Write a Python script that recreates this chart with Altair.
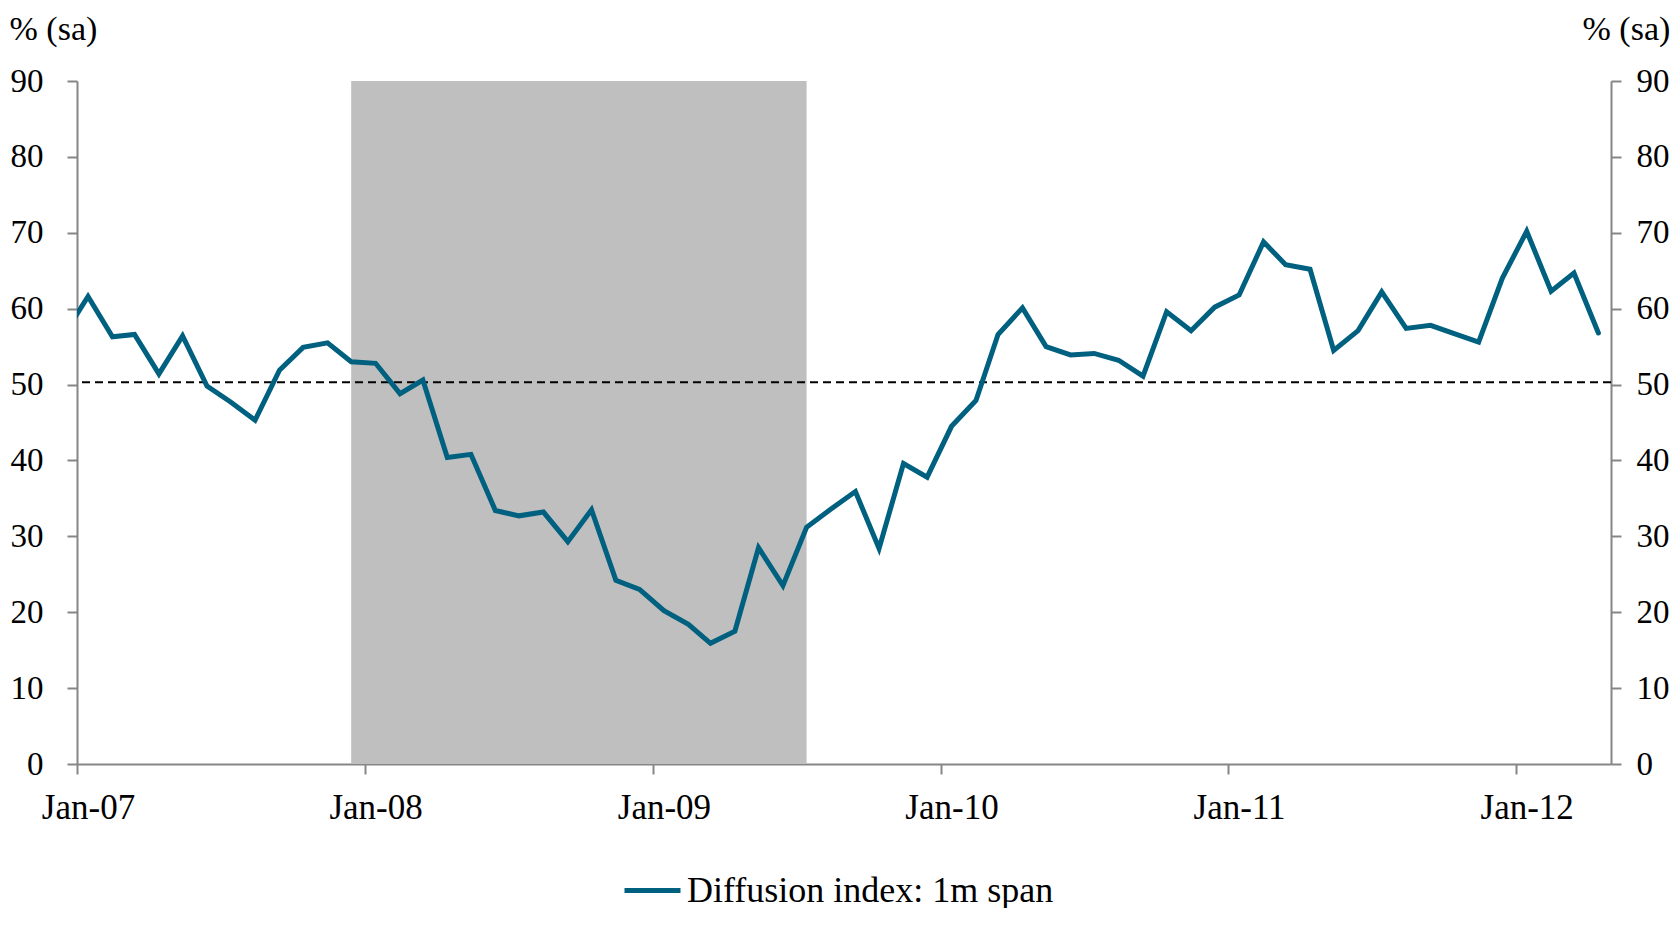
import altair as alt
import pandas as pd

# ---- data ----
values = [
    56.5, 61.6, 56.3, 56.6, 51.4, 56.4, 49.8, 47.7, 45.3, 51.9, 54.9, 55.5,
    53.0, 52.8, 48.8, 50.6, 40.4, 40.8, 33.4, 32.7, 33.2, 29.3, 33.5, 24.2,
    23.0, 20.2, 18.4, 15.9, 17.5, 28.5, 23.5, 31.2, 33.6, 35.9, 28.4, 39.6,
    37.8, 44.5, 47.9, 56.6, 60.1, 55.0, 53.9, 54.1, 53.2, 51.1, 59.6, 57.1,
    60.2, 61.8, 68.8, 65.8, 65.2, 54.5, 57.1, 62.2, 57.4, 57.8, 56.7, 55.6,
    64.0, 70.2, 62.3, 64.7, 56.8,
]
series_name = "Diffusion index: 1m span"
shade_start = ["2007-12-15T00:00"]
shade_end = ["2009-07-15T00:00"]
shade_low = [0]
shade_high = [90]
threshold = [50.3]
year_ticks = [2007, 2008, 2009, 2010, 2011, 2012]
y_ticks = [0, 10, 20, 30, 40, 50, 60, 70, 80, 90]

months = pd.date_range("2006-12-01", periods=len(values), freq="MS") + pd.Timedelta(days=14)
df = pd.DataFrame({
    "date": [d.strftime("%Y-%m-%dT%H:%M") for d in months],
    "value": values,
    "series": [series_name] * len(values),
})
shade_df = pd.DataFrame({"start": shade_start, "end": shade_end, "lo": shade_low, "hi": shade_high})
thr_df = pd.DataFrame({"y": threshold})

FONT = "Liberation Serif"
GRAY = "#868686"
BLUE = "#00607F"

x_domain = [alt.DateTime(year=2007, month=1, date=1), alt.DateTime(year=2012, month=5, date=1)]
x_axis = alt.Axis(
    values=[alt.DateTime(year=y, month=1, date=1) for y in year_ticks],
    format="%b-%y", title=None, labelBaseline="alphabetic", labelPadding=44,
    labelFlush=False, labelOffset=11, labelFontSize=35,
    tickSize=10, grid=False,
)
x_scale = alt.Scale(domain=x_domain)


def yscale():
    return alt.Scale(domain=[0, 90], nice=False, zero=False)


shade = alt.Chart(shade_df).mark_rect(color="#bfbfbf").encode(
    x=alt.X("start:T", scale=x_scale, axis=x_axis),
    x2="end:T",
    y=alt.Y("lo:Q", scale=yscale(), axis=alt.Axis(
        orient="left", values=y_ticks, title="% (sa)", titleAngle=0,
        titleX=-68, titleY=-42, titleAlign="left", titleBaseline="alphabetic",
        labelPadding=24, tickSize=10, grid=False)),
    y2="hi:Q",
)

rule = alt.Chart(thr_df).mark_rule(color="black", strokeWidth=2, strokeDash=[8, 5]).encode(
    y=alt.Y("y:Q", scale=yscale(), axis=None),
)

line = alt.Chart(df).mark_line(strokeWidth=5, strokeCap="round", clip=True).encode(
    x=alt.X("date:T", scale=x_scale, axis=x_axis),
    y=alt.Y("value:Q", scale=yscale(), axis=alt.Axis(
        orient="right", values=y_ticks, title="% (sa)", titleAngle=0,
        titleX=-29, titleY=-42, titleAlign="left", titleBaseline="alphabetic",
        labelPadding=15, tickSize=10, grid=False)),
    color=alt.Color("series:N", scale=alt.Scale(range=[BLUE]), legend=alt.Legend(
        title=None, orient="none", legendX=545, legendY=779,
        symbolType="stroke", symbolSize=3136, symbolStrokeWidth=5,
        symbolStrokeColor=BLUE, symbolOpacity=1,
        labelFontSize=36, labelFont=FONT, labelColor="black", labelOffset=4,
        labelLimit=0, padding=0)),
)

chart = alt.layer(shade, rule, line).resolve_scale(y="independent").properties(
    width=1534, height=683,
    autosize=alt.AutoSizeParams(type="none"),
    padding={"left": 69, "top": 73, "right": 59, "bottom": 144},
).configure_view(stroke=None).configure_axis(
    labelFont=FONT, titleFont=FONT, labelFontSize=33, titleFontSize=34,
    labelColor="black", titleColor="black", titleFontWeight="normal",
    domainColor=GRAY, domainWidth=2, tickColor=GRAY, tickWidth=2,
)

chart.save("out.html", embed_options={"renderer": "svg", "actions": False})
